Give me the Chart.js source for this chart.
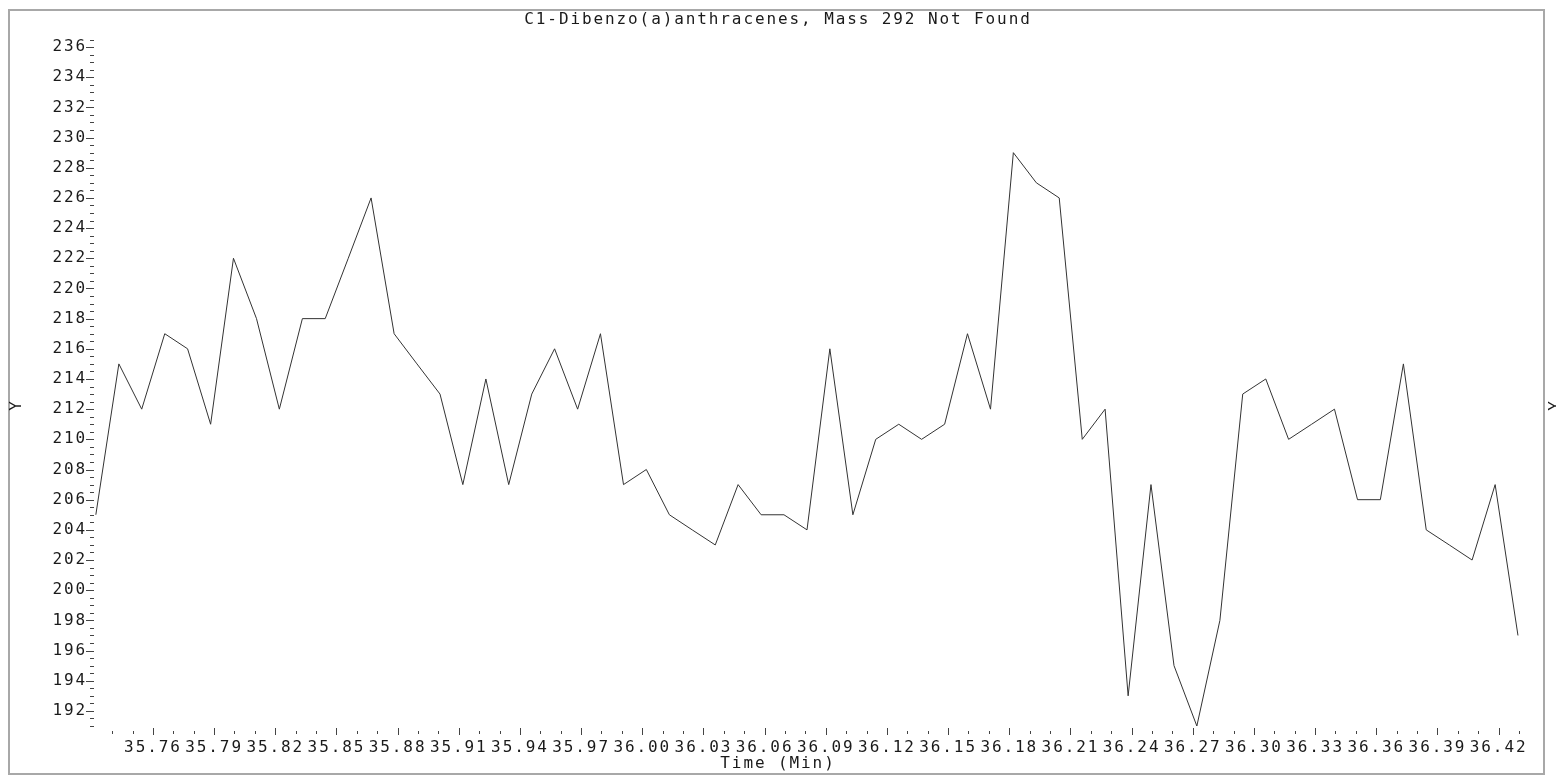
<!DOCTYPE html>
<html>
<head>
<meta charset="utf-8">
<script src="https://cdn.jsdelivr.net/npm/chart.js@4.4.1/dist/chart.umd.min.js"></script>
<style>
html,body{margin:0;padding:0;background:#fff;overflow:hidden}
canvas{display:block}
</style>
</head>
<body>
<canvas id="c" width="1556" height="776"></canvas>
<script>
// ---------- data ----------
const chartTitle = 'C1-Dibenzo(a)anthracenes, Mass 292 Not Found';
const xTitle = 'Time (Min)';
const yTitle = 'Y';

const times = [
  35.7320, 35.7433, 35.7545, 35.7658, 35.7770, 35.7883, 35.7995, 35.8108, 35.8220, 35.8333,
  35.8445, 35.8558, 35.8670, 35.8783, 35.8895, 35.9008, 35.9120, 35.9233, 35.9345, 35.9458,
  35.9570, 35.9683, 35.9795, 35.9908, 36.0020, 36.0133, 36.0245, 36.0358, 36.0470, 36.0583,
  36.0695, 36.0808, 36.0920, 36.1033, 36.1145, 36.1258, 36.1370, 36.1483, 36.1595, 36.1708,
  36.1820, 36.1933, 36.2045, 36.2158, 36.2270, 36.2383, 36.2495, 36.2608, 36.2720, 36.2833,
  36.2945, 36.3058, 36.3170, 36.3283, 36.3395, 36.3508, 36.3620, 36.3733, 36.3845, 36.3958,
  36.4070, 36.4183, 36.4295
];
const intensities = [
  205, 215, 212, 217, 216, 211, 222, 218, 212, 218,
  218, 222, 226, 217, 215, 213, 207, 214, 207, 213,
  216, 212, 217, 207, 208, 205, 204, 203, 207, 205,
  205, 204, 216, 205, 210, 211, 210, 211, 217, 212,
  229, 227, 226, 210, 212, 193, 207, 195, 191, 198,
  213, 214, 210, 211, 212, 206, 206, 215, 204, 203,
  202, 207, 197
];

const xTickLabels = ['35.76','35.79','35.82','35.85','35.88','35.91','35.94','35.97','36.00','36.03',
  '36.06','36.09','36.12','36.15','36.18','36.21','36.24','36.27','36.30','36.33','36.36','36.39','36.42'];
const yTickLabels = ['192','194','196','198','200','202','204','206','208','210','212','214','216',
  '218','220','222','224','226','228','230','232','234','236'];

const xRange = [35.7311, 36.43];
const yRange = [191, 236.6];

// ---------- style ----------
const FONT = {family: "'DejaVu Sans Mono', 'Liberation Mono', monospace", size: 16, lineHeight: 1, weight: 'normal'};
const TEXT = '#1a1a1a';
const LS = '1.9px';

const styler = {
  id: 'styler',
  beforeInit(chart){ chart.ctx.letterSpacing = LS; },
  beforeUpdate(chart){ chart.ctx.letterSpacing = LS; },
  beforeLayout(chart){ chart.ctx.letterSpacing = LS; },
  beforeDraw(chart){ chart.ctx.letterSpacing = LS; },
  afterDraw(chart){
    const ctx = chart.ctx, a = chart.chartArea;
    const xs = chart.scales.x, ys = chart.scales.y;
    ctx.save();
    ctx.strokeStyle = '#444';
    ctx.lineWidth = 1;
    ctx.beginPath();
    xs.ticks.forEach(t => {
      const px = Math.round(xs.getPixelForValue(t.value)) + 0.5;
      if (t.label !== '') { ctx.moveTo(px, a.bottom + 2); ctx.lineTo(px, a.bottom + 9); }
      else { ctx.moveTo(px, a.bottom + 5); ctx.lineTo(px, a.bottom + 8); }
    });
    ys.ticks.forEach(t => {
      const py = Math.round(ys.getPixelForValue(t.value)) + 0.5;
      ctx.moveTo(a.left - (t.label !== '' ? 8 : 4), py);
      ctx.lineTo(a.left, py);
    });
    ctx.stroke();
    // outer frame
    ctx.strokeStyle = '#a8a8a8';
    ctx.lineWidth = 2;
    ctx.strokeRect(9, 10, 1535, 764);
    // Y titles (rotated)
    ctx.fillStyle = TEXT;
    ctx.font = "16px 'DejaVu Sans Mono', monospace";
    ctx.textAlign = 'center';
    ctx.textBaseline = 'middle';
    ctx.letterSpacing = '0px';
    [[17, 406], [1556, 406]].forEach(([x, y]) => {
      ctx.save();
      ctx.translate(x, y);
      ctx.rotate(-Math.PI / 2);
      ctx.fillText(yTitle, 0, 0);
      ctx.restore();
    });
    ctx.restore();
  }
};

new Chart(document.getElementById('c'), {
  type: 'line',
  data: {
    datasets: [{
      data: times.map((t, i) => ({x: t, y: intensities[i]})),
      borderColor: '#333',
      borderWidth: 1,
      pointRadius: 0,
      tension: 0,
      fill: false
    }]
  },
  options: {
    responsive: false,
    animation: false,
    events: [],
    layout: {padding: {left: 0, right: 0, top: 0, bottom: 0}},
    plugins: {
      legend: {display: false},
      tooltip: {enabled: false},
      title: {display: true, text: chartTitle, color: TEXT, font: FONT, padding: {top: 12, bottom: 10}},
      subtitle: {display: true, text: xTitle, position: 'bottom', color: TEXT, font: FONT, padding: {top: 0, bottom: 4}}
    },
    scales: {
      x: {
        type: 'linear',
        min: xRange[0], max: xRange[1],
        bounds: 'data',
        grid: {display: false, drawTicks: false},
        border: {display: false},
        afterBuildTicks(axis){
          const ticks = [];
          for (let k = 3574; k <= 3643; k++) ticks.push({value: k / 100});
          axis.ticks = ticks;
        },
        afterFit(s){ s.height = 30; },
        ticks: {
          autoSkip: false, maxRotation: 0, minRotation: 0, padding: 14,
          color: TEXT, font: FONT,
          callback(v){ const s = v.toFixed(2); return xTickLabels.includes(s) ? s : ''; }
        }
      },
      y: {
        type: 'linear',
        position: 'left',
        min: yRange[0], max: yRange[1],
        bounds: 'data',
        grid: {display: false, drawTicks: false},
        border: {display: false},
        afterBuildTicks(axis){
          const ticks = [];
          for (let k = 382; k <= 473; k++) ticks.push({value: k / 2});
          axis.ticks = ticks;
        },
        afterFit(s){ s.width = 94; },
        ticks: {
          autoSkip: false, padding: 7, color: TEXT, font: FONT,
          callback(v){ const s = String(v); return yTickLabels.includes(s) ? s : ''; }
        }
      },
      y2: {
        type: 'linear',
        position: 'right',
        display: true,
        grid: {display: false, drawTicks: false},
        border: {display: false},
        ticks: {display: false},
        afterFit(s){ s.width = 37; }
      }
    }
  },
  plugins: [styler]
});
</script>
</body>
</html>
